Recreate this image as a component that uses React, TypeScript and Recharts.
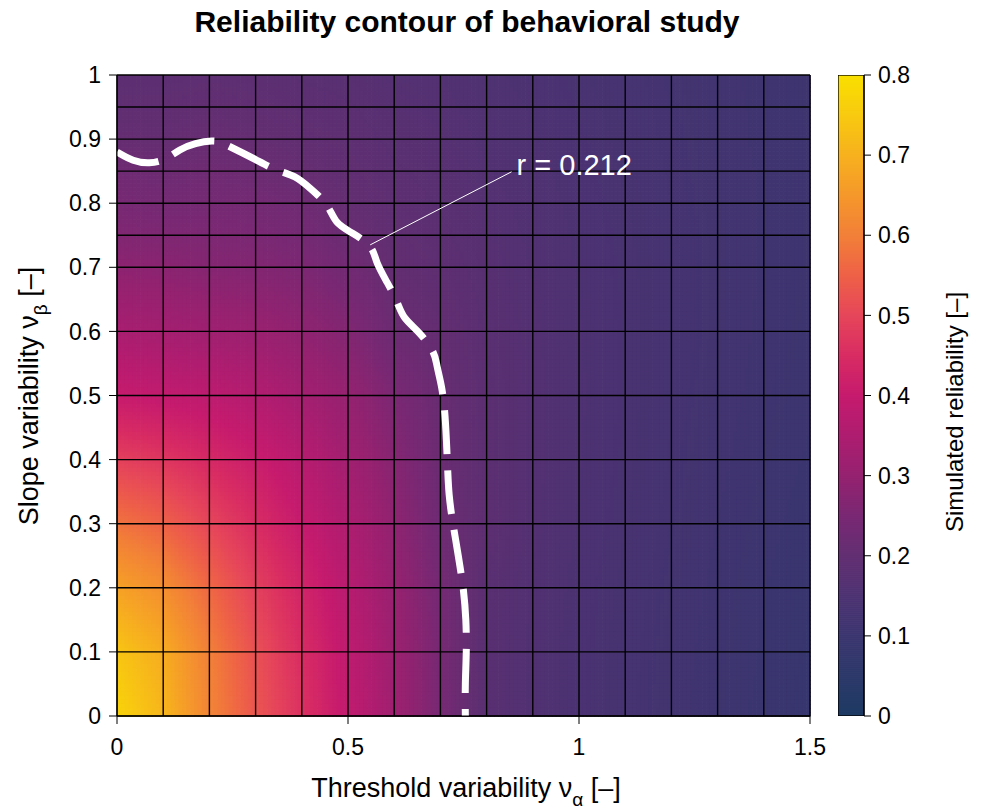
import React from "react";
import {
  ComposedChart,
  XAxis,
  YAxis,
  Line,
  Bar,
  ReferenceArea,
  ReferenceLine,
  ReferenceDot,
} from "recharts";

// mesh nodes (threshold variability on x, slope variability on y)
const thresholdNodes = [0, 0.1, 0.2, 0.3, 0.4, 0.5, 0.6, 0.7, 0.8, 0.9, 1.0, 1.1, 1.2, 1.3, 1.4, 1.5];
const slopeNodes = [0, 0.1, 0.2, 0.3, 0.4, 0.5, 0.6, 0.7, 0.75, 0.8, 0.85, 0.9, 0.95, 1];

// simulated reliability at each node, one list per slope value
const relSlope000 = [0.77, 0.71, 0.61, 0.53, 0.46, 0.39, 0.32, 0.245, 0.178, 0.16, 0.145, 0.132, 0.12, 0.108, 0.098, 0.088];
const relSlope010 = [0.74, 0.69, 0.6, 0.52, 0.45, 0.385, 0.315, 0.243, 0.178, 0.16, 0.145, 0.133, 0.121, 0.11, 0.1, 0.09];
const relSlope020 = [0.67, 0.63, 0.56, 0.49, 0.43, 0.37, 0.305, 0.238, 0.18, 0.162, 0.147, 0.135, 0.123, 0.112, 0.102, 0.093];
const relSlope030 = [0.58, 0.55, 0.5, 0.45, 0.4, 0.35, 0.29, 0.224, 0.19, 0.165, 0.15, 0.138, 0.126, 0.115, 0.105, 0.096];
const relSlope040 = [0.49, 0.47, 0.44, 0.41, 0.37, 0.325, 0.272, 0.217, 0.186, 0.167, 0.152, 0.14, 0.128, 0.118, 0.108, 0.1];
const relSlope050 = [0.4, 0.39, 0.38, 0.36, 0.33, 0.3, 0.252, 0.213, 0.185, 0.167, 0.153, 0.141, 0.13, 0.12, 0.111, 0.103];
const relSlope060 = [0.34, 0.33, 0.32, 0.31, 0.29, 0.265, 0.219, 0.204, 0.18, 0.165, 0.152, 0.141, 0.131, 0.122, 0.113, 0.105];
const relSlope070 = [0.285, 0.28, 0.27, 0.265, 0.255, 0.232, 0.203, 0.19, 0.175, 0.162, 0.15, 0.14, 0.131, 0.122, 0.114, 0.107];
const relSlope075 = [0.262, 0.258, 0.255, 0.25, 0.24, 0.215, 0.196, 0.185, 0.172, 0.16, 0.149, 0.139, 0.13, 0.122, 0.114, 0.107];
const relSlope080 = [0.245, 0.238, 0.24, 0.236, 0.225, 0.204, 0.19, 0.18, 0.168, 0.158, 0.147, 0.138, 0.129, 0.121, 0.114, 0.108];
const relSlope085 = [0.228, 0.22, 0.226, 0.218, 0.209, 0.196, 0.184, 0.176, 0.164, 0.155, 0.145, 0.136, 0.128, 0.121, 0.114, 0.108];
const relSlope090 = [0.207, 0.205, 0.211, 0.205, 0.197, 0.19, 0.178, 0.171, 0.16, 0.152, 0.143, 0.135, 0.127, 0.12, 0.113, 0.108];
const relSlope095 = [0.195, 0.195, 0.199, 0.195, 0.188, 0.183, 0.173, 0.167, 0.157, 0.15, 0.141, 0.133, 0.126, 0.119, 0.113, 0.107];
const relSlope100 = [0.185, 0.186, 0.19, 0.186, 0.18, 0.177, 0.168, 0.163, 0.154, 0.147, 0.139, 0.132, 0.125, 0.118, 0.112, 0.107];

const reliabilityRows = [
  relSlope000, relSlope010, relSlope020, relSlope030, relSlope040, relSlope050, relSlope060,
  relSlope070, relSlope075, relSlope080, relSlope085, relSlope090, relSlope095, relSlope100,
];

// r = 0.212 contour
const contourThreshold = [0.0, 0.035, 0.07, 0.104, 0.136, 0.17, 0.205, 0.227, 0.259, 0.3, 0.345, 0.385, 0.42, 0.454, 0.4755, 0.51, 0.548, 0.563, 0.585, 0.606, 0.623, 0.655, 0.684, 0.693, 0.702, 0.709, 0.713, 0.716, 0.719, 0.725, 0.733, 0.742, 0.75, 0.755, 0.756, 0.754, 0.754];
const contourSlope = [0.88, 0.867, 0.863, 0.869, 0.883, 0.893, 0.897, 0.894, 0.883, 0.868, 0.852, 0.841, 0.822, 0.797, 0.771, 0.753, 0.732, 0.707, 0.676, 0.646, 0.621, 0.597, 0.568, 0.545, 0.515, 0.477, 0.43, 0.381, 0.345, 0.31, 0.275, 0.235, 0.195, 0.15, 0.1, 0.05, 0.0];
const contourLevel = 0.212;

const xTicks = [0, 0.5, 1, 1.5];
const yTicks = [0, 0.1, 0.2, 0.3, 0.4, 0.5, 0.6, 0.7, 0.8, 0.9, 1];
const barTicks = [0, 0.1, 0.2, 0.3, 0.4, 0.5, 0.6, 0.7, 0.8];

const contourData = contourThreshold.map((t, i) => ({ threshold: t, slope: contourSlope[i] }));
const colorbarData = [{ level: "reliability", top: barTicks[barTicks.length - 1] }];

const FONT = '"Liberation Sans", Arial, Helvetica, sans-serif';

// colour map
const PALETTE: [number, string][] = [
  [0.0, "#1d3a63"],
  [0.05, "#2b3869"],
  [0.1, "#3b356f"],
  [0.15, "#4d3272"],
  [0.2, "#622e72"],
  [0.25, "#7a2873"],
  [0.3, "#952270"],
  [0.35, "#ae1d70"],
  [0.4, "#c61b6e"],
  [0.45, "#d82c63"],
  [0.5, "#e6465a"],
  [0.55, "#ee6147"],
  [0.6, "#f28038"],
  [0.65, "#f5982b"],
  [0.7, "#f7b11e"],
  [0.75, "#f8ca10"],
  [0.8, "#f9e000"],
];

const hexRgb = (h: string) => [1, 3, 5].map((k) => parseInt(h.slice(k, k + 2), 16));

function colorFor(v: number) {
  const lo = PALETTE[0][0];
  const hi = PALETTE[PALETTE.length - 1][0];
  const t = Math.max(lo, Math.min(hi, v));
  for (let k = 0; k < PALETTE.length - 1; k++) {
    const [a, ca] = PALETTE[k];
    const [b, cb] = PALETTE[k + 1];
    if (t <= b) {
      const f = (t - a) / (b - a);
      const A = hexRgb(ca);
      const B = hexRgb(cb);
      const c = A.map((q, n) => Math.round(q + (B[n] - q) * f));
      return `rgb(${c[0]},${c[1]},${c[2]})`;
    }
  }
  return PALETTE[PALETTE.length - 1][1];
}

// one mesh face, colour interpolated between its four corner values
function HeatCell(props: any) {
  const { x, y, width, height, corners } = props;
  const [bl, br, tl, tr] = corners;
  const nx = Math.max(1, Math.round(width / 4));
  const ny = Math.max(1, Math.round(height / 4));
  const out: React.ReactNode[] = [];
  for (let i = 0; i < nx; i++) {
    const xa = x + (width * i) / nx;
    const xb = x + (width * (i + 1)) / nx;
    const u = (i + 0.5) / nx;
    for (let j = 0; j < ny; j++) {
      const ya = y + (height * j) / ny;
      const yb = y + (height * (j + 1)) / ny;
      const w = 1 - (j + 0.5) / ny;
      const v = (1 - u) * (1 - w) * bl + u * (1 - w) * br + (1 - u) * w * tl + u * w * tr;
      out.push(
        <rect key={i + "-" + j} x={xa} y={ya} width={xb - xa + 0.7} height={yb - ya + 0.7} fill={colorFor(v)} />
      );
    }
  }
  return <g>{out}</g>;
}

function ColorRamp(props: any) {
  const { x, y, width, height } = props;
  const top = barTicks[barTicks.length - 1];
  const n = Math.max(1, Math.round(height / 2));
  const strips: React.ReactNode[] = [];
  for (let k = 0; k < n; k++) {
    const v = top * (1 - (k + 0.5) / n);
    strips.push(
      <rect key={k} x={x} y={y + (height * k) / n} width={width} height={height / n + 0.7} fill={colorFor(v)} />
    );
  }
  return (
    <g>
      {strips}
      <rect x={x} y={y} width={width} height={height} fill="none" stroke="#000" strokeWidth={1.3} />
    </g>
  );
}

const fmt = (v: number) => String(v);

const tickStyle = { fontSize: 23, fill: "#000", fontFamily: FONT };

export default function App() {
  const cells: React.ReactNode[] = [];
  for (let j = 0; j < slopeNodes.length - 1; j++) {
    for (let i = 0; i < thresholdNodes.length - 1; i++) {
      const corners = [
        reliabilityRows[j][i],
        reliabilityRows[j][i + 1],
        reliabilityRows[j + 1][i],
        reliabilityRows[j + 1][i + 1],
      ];
      cells.push(
        <ReferenceArea
          key={`c${j}-${i}`}
          x1={thresholdNodes[i]}
          x2={thresholdNodes[i + 1]}
          y1={slopeNodes[j]}
          y2={slopeNodes[j + 1]}
          ifOverflow="visible"
          shape={(p: any) => <HeatCell {...p} corners={corners} />}
        />
      );
    }
  }

  return (
    <div style={{ position: "absolute", left: 0, top: 0, width: 981, height: 810, background: "#fff", fontFamily: FONT }}>
      <div
        style={{
          position: "absolute",
          left: 0,
          top: 4,
          width: 934,
          textAlign: "center",
          fontSize: 30,
          lineHeight: "36px",
          fontWeight: "bold",
          color: "#000",
        }}
      >
        Reliability contour of behavioral study
      </div>

      <div style={{ position: "absolute", left: 0, top: 0 }}>
        <ComposedChart width={981} height={810} margin={{ top: 75, right: 171, bottom: 54, left: 57 }}>
          <XAxis
            type="number"
            dataKey="threshold"
            domain={[0, 1.5]}
            ticks={xTicks}
            tickFormatter={fmt}
            allowDataOverflow
            height={40}
            stroke="#000"
            tickSize={8}
            tickMargin={15}
            tick={tickStyle}
            label={{
              content: () => (
                <text x={466} y={797} textAnchor="middle" fontSize={27} fontFamily={FONT} fill="#000">
                  Threshold variability ν<tspan dy={9} fontSize={19}>α</tspan>
                  <tspan dy={-9}> [–]</tspan>
                </text>
              ),
            }}
          />
          <YAxis
            type="number"
            dataKey="slope"
            domain={[0, 1]}
            ticks={yTicks}
            tickFormatter={fmt}
            allowDataOverflow
            width={60}
            stroke="#000"
            tickSize={8}
            tickMargin={8}
            tick={tickStyle}
            label={{
              content: () => (
                <text
                  transform="translate(38,396) rotate(-90)"
                  textAnchor="middle"
                  fontSize={27}
                  fontFamily={FONT}
                  fill="#000"
                >
                  Slope variability ν<tspan dy={9} fontSize={19}>β</tspan>
                  <tspan dy={-9}> [–]</tspan>
                </text>
              ),
            }}
          />
          {cells}
          {thresholdNodes.map((t) => (
            <ReferenceLine key={`gx${t}`} x={t} stroke="#000" strokeWidth={1.4} ifOverflow="visible" />
          ))}
          {slopeNodes.map((s) => (
            <ReferenceLine key={`gy${s}`} y={s} stroke="#000" strokeWidth={1.4} ifOverflow="visible" />
          ))}
          <Line
            data={contourData}
            dataKey="slope"
            type="natural"
            stroke="#fff"
            strokeWidth={7}
            strokeDasharray="44 16"
            dot={false}
            activeDot={false}
            isAnimationActive={false}
          />
          <ReferenceLine
            segment={[
              { x: 0.548, y: 0.735 },
              { x: 0.854, y: 0.849 },
            ]}
            stroke="#fff"
            strokeWidth={1}
          />
          <ReferenceDot
            x={0.854}
            y={0.86}
            r={0}
            fill="none"
            stroke="none"
            label={{ value: `r = ${contourLevel}`, position: "right", fill: "#fff", fontSize: 29, fontFamily: FONT }}
          />
        </ComposedChart>
      </div>

      <div style={{ position: "absolute", left: 838, top: 0 }}>
        <ComposedChart
          width={143}
          height={810}
          data={colorbarData}
          barCategoryGap={0}
          margin={{ top: 75, right: 57, bottom: 94, left: 0 }}
        >
          <XAxis type="category" dataKey="level" hide />
          <YAxis
            type="number"
            orientation="right"
            domain={[0, 0.8]}
            ticks={barTicks}
            tickFormatter={fmt}
            allowDataOverflow
            width={60}
            stroke="#000"
            tickSize={7}
            tickMargin={7}
            tick={tickStyle}
            label={{
              content: () => (
                <text
                  transform="translate(125,412) rotate(-90)"
                  textAnchor="middle"
                  fontSize={24}
                  fontFamily={FONT}
                  fill="#000"
                >
                  Simulated reliability [–]
                </text>
              ),
            }}
          />
          <Bar dataKey="top" shape={(p: any) => <ColorRamp {...p} />} isAnimationActive={false} />
        </ComposedChart>
      </div>
    </div>
  );
}
